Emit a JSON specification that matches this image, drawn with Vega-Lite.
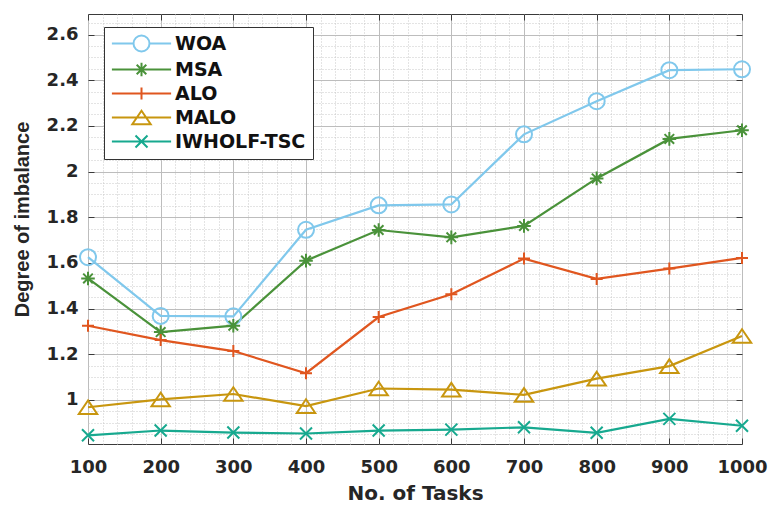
{
  "$schema": "https://vega.github.io/schema/vega-lite/v6.json",
  "width": 654,
  "height": 430,
  "autosize": {"type": "none"},
  "padding": {"left": 88, "top": 14, "right": 26, "bottom": 62},
  "background": "white",
  "config": {
    "view": {"stroke": "#3a3a3a", "strokeWidth": 1},
    "font": "DejaVu Sans"
  },
  "data": {
    "values": [
      {"tasks": 100, "algo": "WOA", "value": 1.625},
      {"tasks": 200, "algo": "WOA", "value": 1.368},
      {"tasks": 300, "algo": "WOA", "value": 1.366},
      {"tasks": 400, "algo": "WOA", "value": 1.745},
      {"tasks": 500, "algo": "WOA", "value": 1.852},
      {"tasks": 600, "algo": "WOA", "value": 1.856},
      {"tasks": 700, "algo": "WOA", "value": 2.163},
      {"tasks": 800, "algo": "WOA", "value": 2.308},
      {"tasks": 900, "algo": "WOA", "value": 2.444},
      {"tasks": 1000, "algo": "WOA", "value": 2.448},
      {"tasks": 100, "algo": "MSA", "value": 1.532},
      {"tasks": 200, "algo": "MSA", "value": 1.297},
      {"tasks": 300, "algo": "MSA", "value": 1.325},
      {"tasks": 400, "algo": "MSA", "value": 1.61},
      {"tasks": 500, "algo": "MSA", "value": 1.744},
      {"tasks": 600, "algo": "MSA", "value": 1.712},
      {"tasks": 700, "algo": "MSA", "value": 1.762},
      {"tasks": 800, "algo": "MSA", "value": 1.97},
      {"tasks": 900, "algo": "MSA", "value": 2.143},
      {"tasks": 1000, "algo": "MSA", "value": 2.181},
      {"tasks": 100, "algo": "ALO", "value": 1.325},
      {"tasks": 200, "algo": "ALO", "value": 1.262},
      {"tasks": 300, "algo": "ALO", "value": 1.214},
      {"tasks": 400, "algo": "ALO", "value": 1.117},
      {"tasks": 500, "algo": "ALO", "value": 1.363},
      {"tasks": 600, "algo": "ALO", "value": 1.463},
      {"tasks": 700, "algo": "ALO", "value": 1.619},
      {"tasks": 800, "algo": "ALO", "value": 1.53},
      {"tasks": 900, "algo": "ALO", "value": 1.575},
      {"tasks": 1000, "algo": "ALO", "value": 1.622},
      {"tasks": 100, "algo": "MALO", "value": 0.968},
      {"tasks": 200, "algo": "MALO", "value": 1.002},
      {"tasks": 300, "algo": "MALO", "value": 1.026},
      {"tasks": 400, "algo": "MALO", "value": 0.973},
      {"tasks": 500, "algo": "MALO", "value": 1.05},
      {"tasks": 600, "algo": "MALO", "value": 1.045},
      {"tasks": 700, "algo": "MALO", "value": 1.022},
      {"tasks": 800, "algo": "MALO", "value": 1.093},
      {"tasks": 900, "algo": "MALO", "value": 1.148},
      {"tasks": 1000, "algo": "MALO", "value": 1.28},
      {"tasks": 100, "algo": "IWHOLF-TSC", "value": 0.845},
      {"tasks": 200, "algo": "IWHOLF-TSC", "value": 0.866},
      {"tasks": 300, "algo": "IWHOLF-TSC", "value": 0.857},
      {"tasks": 400, "algo": "IWHOLF-TSC", "value": 0.853},
      {"tasks": 500, "algo": "IWHOLF-TSC", "value": 0.866},
      {"tasks": 600, "algo": "IWHOLF-TSC", "value": 0.87},
      {"tasks": 700, "algo": "IWHOLF-TSC", "value": 0.88},
      {"tasks": 800, "algo": "IWHOLF-TSC", "value": 0.856},
      {"tasks": 900, "algo": "IWHOLF-TSC", "value": 0.917},
      {"tasks": 1000, "algo": "IWHOLF-TSC", "value": 0.887}
    ]
  },
  "layer": [
    {
      "mark": {"type": "line", "strokeWidth": 2.2},
      "encoding": {
        "x": {
          "field": "tasks", "type": "quantitative",
          "scale": {"domain": [100, 1000], "nice": false, "zero": false},
          "axis": {
            "orient": "bottom", "title": null, "labels": false, "ticks": false, "domain": false,
            "values": [120,140,160,180,220,240,260,280,320,340,360,380,420,440,460,480,520,540,560,580,620,640,660,680,720,740,760,780,820,840,860,880,920,940,960,980],
            "grid": true, "gridColor": "#c8c8c8", "gridDash": [1, 2], "gridWidth": 1
          }
        },
        "y": {
          "field": "value", "type": "quantitative",
          "scale": {"domain": [0.807, 2.69], "nice": false, "zero": false},
          "axis": {
            "orient": "left", "title": null, "labels": false, "ticks": false, "domain": false,
            "values": [0.85,0.9,0.95,1.05,1.1,1.15,1.25,1.3,1.35,1.45,1.5,1.55,1.65,1.7,1.75,1.85,1.9,1.95,2.05,2.1,2.15,2.25,2.3,2.35,2.45,2.5,2.55,2.65],
            "grid": true, "gridColor": "#c8c8c8", "gridDash": [1, 2], "gridWidth": 1
          }
        },
        "color": {
          "field": "algo", "type": "nominal",
          "scale": {"domain": ["WOA", "MSA", "ALO", "MALO", "IWHOLF-TSC"], "range": ["#80c8ec", "#4a923a", "#e0561f", "#c8960f", "#17a98f"]},
          "legend": null
        }
      }
    },
    {
      "mark": {"type": "point", "filled": false, "strokeWidth": 2, "size": 256, "opacity": 1},
      "encoding": {
        "x": {
          "field": "tasks", "type": "quantitative",
          "axis": {
            "orient": "bottom", "title": "No. of Tasks",
            "values": [100,200,300,400,500,600,700,800,900,1000], "format": "d",
            "grid": true, "gridColor": "#bdbdbd", "gridWidth": 1,
            "domain": false, "ticks": true, "tickSize": -6, "tickColor": "#3a3a3a",
            "labelFlush": false, "labelOverlap": false,
            "labelPadding": 20, "labelFontSize": 18, "labelFontWeight": "bold",
            "labelColor": "#262626", "labelFont": "DejaVu Sans",
            "titleFontSize": 20, "titleFontWeight": "bold", "titleColor": "#262626",
            "titleFont": "DejaVu Sans", "titlePadding": 7
          }
        },
        "y": {
          "field": "value", "type": "quantitative",
          "axis": {
            "orient": "left", "title": "Degree of imbalance",
            "values": [1, 1.2, 1.4, 1.6, 1.8, 2, 2.2, 2.4, 2.6], "format": "~g",
            "grid": true, "gridColor": "#bdbdbd", "gridWidth": 1,
            "domain": false, "ticks": true, "tickSize": -6, "tickColor": "#3a3a3a",
            "labelPadding": 16, "labelFontSize": 18, "labelFontWeight": "bold",
            "labelColor": "#262626", "labelFont": "DejaVu Sans",
            "titleFontSize": 20, "titleFontWeight": "bold", "titleColor": "#262626",
            "titleFont": "Liberation Sans", "titlePadding": 14, "titleY": 205
          }
        },
        "color": {
          "field": "algo", "type": "nominal",
          "scale": {"domain": ["WOA", "MSA", "ALO", "MALO", "IWHOLF-TSC"], "range": ["#80c8ec", "#4a923a", "#e0561f", "#c8960f", "#17a98f"]},
          "legend": null
        },
        "shape": {
          "field": "algo", "type": "nominal",
          "scale": {"domain": ["WOA", "MSA", "ALO", "MALO", "IWHOLF-TSC"], "range": ["circle", "M0,-0.85L0,0.85M-0.85,0L0.85,0M-0.6,-0.6L0.6,0.6M-0.6,0.6L0.6,-0.6", "M0,-0.75L0,0.75M-0.75,0L0.75,0", "M0,-0.85L1.15,0.85L-1.15,0.85Z", "M-0.75,-0.75L0.75,0.75M-0.75,0.75L0.75,-0.75"]},
          "legend": null
        }
      }
    },
    {
      "transform": [{"filter": "datum.value < 0"}],
      "mark": {"type": "point", "filled": false, "strokeWidth": 2, "size": 256, "opacity": 1},
      "encoding": {
        "x": {
          "field": "tasks", "type": "quantitative",
          "axis": {
            "orient": "top", "title": null, "labels": false, "grid": false, "domain": false,
            "values": [100,200,300,400,500,600,700,800,900,1000],
            "ticks": true, "tickSize": -6, "tickColor": "#3a3a3a"
          }
        },
        "y": {
          "field": "value", "type": "quantitative",
          "axis": {
            "orient": "right", "title": null, "labels": false, "grid": false, "domain": false,
            "values": [1, 1.2, 1.4, 1.6, 1.8, 2, 2.2, 2.4, 2.6],
            "ticks": true, "tickSize": -6, "tickColor": "#3a3a3a"
          }
        },
        "color": {
          "field": "algo", "type": "nominal",
          "scale": {"domain": ["WOA", "MSA", "ALO", "MALO", "IWHOLF-TSC"], "range": ["#80c8ec", "#4a923a", "#e0561f", "#c8960f", "#17a98f"]},
          "legend": {
            "orient": "none", "legendX": 16, "legendY": 13, "title": null,
            "fillColor": "white", "strokeColor": "#333333", "padding": 7,
            "symbolSize": 256, "symbolStrokeWidth": 2, "symbolOpacity": 1,
            "symbolOffset": 21, "labelFontSize": 19, "labelFont": "DejaVu Sans",
            "labelFontWeight": "bold", "labelColor": "#111111", "labelOffset": 24,
            "rowPadding": 2
          }
        },
        "shape": {
          "field": "algo", "type": "nominal",
          "scale": {"domain": ["WOA", "MSA", "ALO", "MALO", "IWHOLF-TSC"], "range": [
            "M-3.7,0L-1,0M1,0L3.7,0M-1,0A1,1 0 1,0 1,0A1,1 0 1,0 -1,0",
            "M-3.7,0L3.7,0M0,-0.85L0,0.85M-0.6,-0.6L0.6,0.6M-0.6,0.6L0.6,-0.6",
            "M-3.7,0L3.7,0M0,-0.75L0,0.75",
            "M-3.7,0L3.7,0M0,-0.85L1.15,0.85L-1.15,0.85Z",
            "M-3.7,0L3.7,0M-0.75,-0.75L0.75,0.75M-0.75,0.75L0.75,-0.75"
          ]},
          "legend": {
            "orient": "none", "legendX": 16, "legendY": 13, "title": null,
            "fillColor": "white", "strokeColor": "#333333", "padding": 7,
            "symbolSize": 256, "symbolStrokeWidth": 2, "symbolOpacity": 1,
            "symbolOffset": 21, "labelFontSize": 19, "labelFont": "DejaVu Sans",
            "labelFontWeight": "bold", "labelColor": "#111111", "labelOffset": 24,
            "rowPadding": 2
          }
        }
      }
    }
  ],
  "resolve": {
    "axis": {"x": "independent", "y": "independent"},
    "scale": {"color": "independent", "shape": "independent"}
  }
}
